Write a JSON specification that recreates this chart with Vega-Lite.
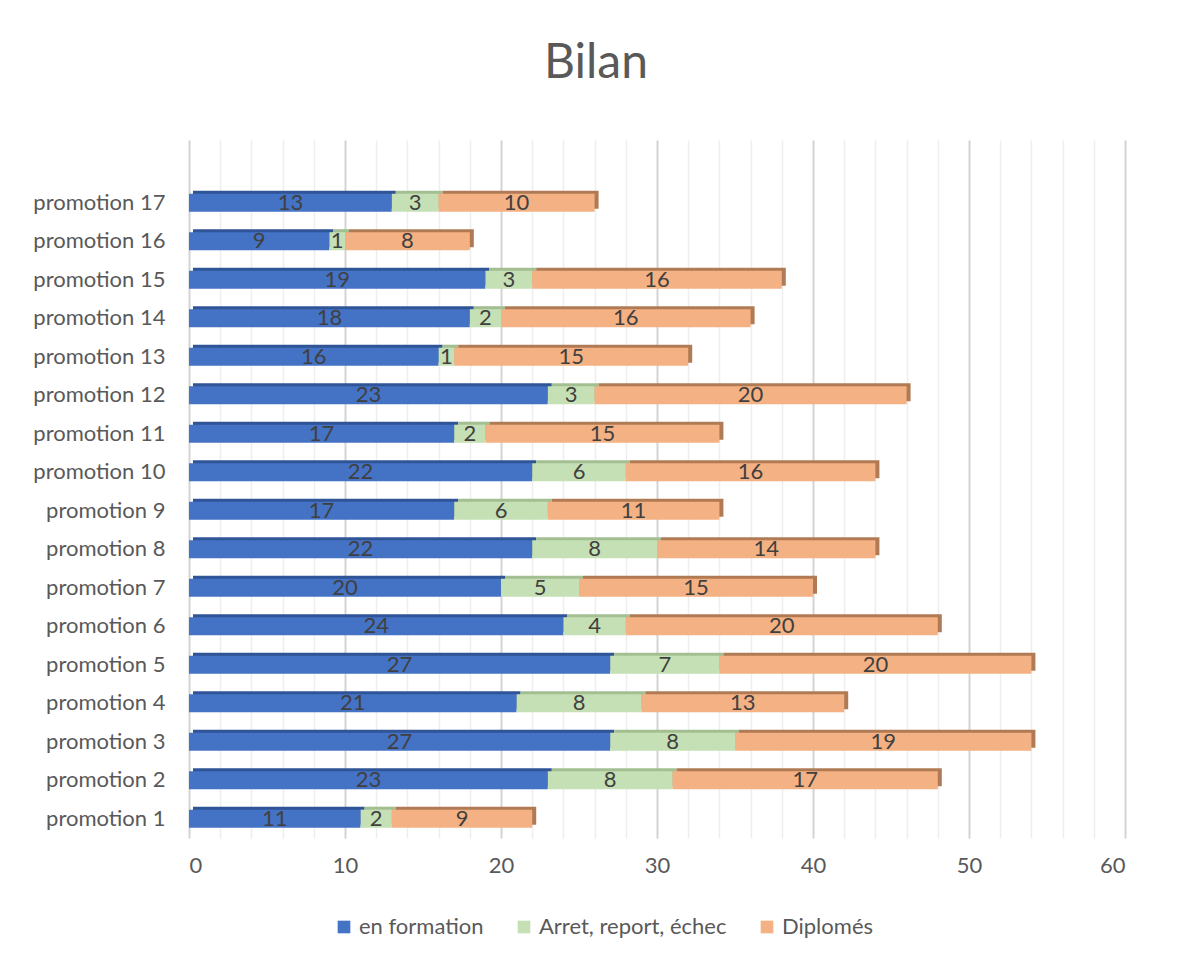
{
  "$schema": "https://vega.github.io/schema/vega-lite/v6.json",
  "width": 936,
  "height": 698,
  "autosize": {"type": "none"},
  "padding": {"left": 189, "top": 140, "right": 59, "bottom": 116},
  "background": "white",
  "config": {"font": "Lato", "view": {"stroke": null}},
  "title": {"text": "Bilan", "fontSize": 48, "fontWeight": "normal", "color": "#595959", "font": "Lato", "anchor": "middle", "dx": -61, "offset": 52},
  "data": {"values": [
    {"promo": "promotion 1", "cat": "en formation", "k": 1, "val": 11},
    {"promo": "promotion 1", "cat": "Arret, report, échec", "k": 2, "val": 2},
    {"promo": "promotion 1", "cat": "Diplomés", "k": 3, "val": 9},
    {"promo": "promotion 2", "cat": "en formation", "k": 1, "val": 23},
    {"promo": "promotion 2", "cat": "Arret, report, échec", "k": 2, "val": 8},
    {"promo": "promotion 2", "cat": "Diplomés", "k": 3, "val": 17},
    {"promo": "promotion 3", "cat": "en formation", "k": 1, "val": 27},
    {"promo": "promotion 3", "cat": "Arret, report, échec", "k": 2, "val": 8},
    {"promo": "promotion 3", "cat": "Diplomés", "k": 3, "val": 19},
    {"promo": "promotion 4", "cat": "en formation", "k": 1, "val": 21},
    {"promo": "promotion 4", "cat": "Arret, report, échec", "k": 2, "val": 8},
    {"promo": "promotion 4", "cat": "Diplomés", "k": 3, "val": 13},
    {"promo": "promotion 5", "cat": "en formation", "k": 1, "val": 27},
    {"promo": "promotion 5", "cat": "Arret, report, échec", "k": 2, "val": 7},
    {"promo": "promotion 5", "cat": "Diplomés", "k": 3, "val": 20},
    {"promo": "promotion 6", "cat": "en formation", "k": 1, "val": 24},
    {"promo": "promotion 6", "cat": "Arret, report, échec", "k": 2, "val": 4},
    {"promo": "promotion 6", "cat": "Diplomés", "k": 3, "val": 20},
    {"promo": "promotion 7", "cat": "en formation", "k": 1, "val": 20},
    {"promo": "promotion 7", "cat": "Arret, report, échec", "k": 2, "val": 5},
    {"promo": "promotion 7", "cat": "Diplomés", "k": 3, "val": 15},
    {"promo": "promotion 8", "cat": "en formation", "k": 1, "val": 22},
    {"promo": "promotion 8", "cat": "Arret, report, échec", "k": 2, "val": 8},
    {"promo": "promotion 8", "cat": "Diplomés", "k": 3, "val": 14},
    {"promo": "promotion 9", "cat": "en formation", "k": 1, "val": 17},
    {"promo": "promotion 9", "cat": "Arret, report, échec", "k": 2, "val": 6},
    {"promo": "promotion 9", "cat": "Diplomés", "k": 3, "val": 11},
    {"promo": "promotion 10", "cat": "en formation", "k": 1, "val": 22},
    {"promo": "promotion 10", "cat": "Arret, report, échec", "k": 2, "val": 6},
    {"promo": "promotion 10", "cat": "Diplomés", "k": 3, "val": 16},
    {"promo": "promotion 11", "cat": "en formation", "k": 1, "val": 17},
    {"promo": "promotion 11", "cat": "Arret, report, échec", "k": 2, "val": 2},
    {"promo": "promotion 11", "cat": "Diplomés", "k": 3, "val": 15},
    {"promo": "promotion 12", "cat": "en formation", "k": 1, "val": 23},
    {"promo": "promotion 12", "cat": "Arret, report, échec", "k": 2, "val": 3},
    {"promo": "promotion 12", "cat": "Diplomés", "k": 3, "val": 20},
    {"promo": "promotion 13", "cat": "en formation", "k": 1, "val": 16},
    {"promo": "promotion 13", "cat": "Arret, report, échec", "k": 2, "val": 1},
    {"promo": "promotion 13", "cat": "Diplomés", "k": 3, "val": 15},
    {"promo": "promotion 14", "cat": "en formation", "k": 1, "val": 18},
    {"promo": "promotion 14", "cat": "Arret, report, échec", "k": 2, "val": 2},
    {"promo": "promotion 14", "cat": "Diplomés", "k": 3, "val": 16},
    {"promo": "promotion 15", "cat": "en formation", "k": 1, "val": 19},
    {"promo": "promotion 15", "cat": "Arret, report, échec", "k": 2, "val": 3},
    {"promo": "promotion 15", "cat": "Diplomés", "k": 3, "val": 16},
    {"promo": "promotion 16", "cat": "en formation", "k": 1, "val": 9},
    {"promo": "promotion 16", "cat": "Arret, report, échec", "k": 2, "val": 1},
    {"promo": "promotion 16", "cat": "Diplomés", "k": 3, "val": 8},
    {"promo": "promotion 17", "cat": "en formation", "k": 1, "val": 13},
    {"promo": "promotion 17", "cat": "Arret, report, échec", "k": 2, "val": 3},
    {"promo": "promotion 17", "cat": "Diplomés", "k": 3, "val": 10}
  ]},
  "encoding": {
    "y": {
      "field": "promo", "type": "nominal",
      "sort": ["promotion 17", "promotion 16", "promotion 15", "promotion 14", "promotion 13", "promotion 12", "promotion 11", "promotion 10", "promotion 9", "promotion 8", "promotion 7", "promotion 6", "promotion 5", "promotion 4", "promotion 3", "promotion 2", "promotion 1"],
      "scale": {"paddingInner": 0.53, "paddingOuter": 0.83, "align": 0.84},
      "axis": {"title": null, "domain": false, "ticks": false, "grid": false, "labelFontSize": 22, "labelColor": "#595959", "labelPadding": 24, "labelLimit": 300}
    },
    "x": {
      "field": "val", "type": "quantitative", "stack": "zero",
      "scale": {"domain": [0, 60], "nice": false},
      "axis": {
        "title": null, "domain": false, "ticks": false, "grid": true,
        "values": [0, 2, 4, 6, 8, 10, 12, 14, 16, 18, 20, 22, 24, 26, 28, 30, 32, 34, 36, 38, 40, 42, 44, 46, 48, 50, 52, 54, 56, 58, 60],
        "gridColor": {"condition": {"test": "datum.value % 10 === 0", "value": "#D4D4D4"}, "value": "#EEEEEE"},
        "gridWidth": {"condition": {"test": "datum.value % 10 === 0", "value": 2}, "value": 1.5},
        "labelExpr": "datum.value % 10 === 0 ? datum.label : ''",
        "labelFontSize": 22, "labelColor": "#595959", "labelPadding": 17
      }
    },
    "order": {"field": "k", "type": "quantitative"}
  },
  "layer": [
    {
      "mark": {"type": "bar", "xOffset": 4, "yOffset": -3},
      "encoding": {
        "color": {"field": "cat", "type": "nominal",
          "scale": {"domain": ["en formation", "Arret, report, échec", "Diplomés"], "range": ["#2F5597", "#A3BF92", "#B07B54"]},
          "legend": null}
      }
    },
    {
      "mark": {"type": "bar"},
      "encoding": {
        "color": {"field": "cat", "type": "nominal",
          "scale": {"domain": ["en formation", "Arret, report, échec", "Diplomés"], "range": ["#4472C4", "#C5E0B4", "#F4B183"]},
          "legend": {"title": null, "orient": "none", "direction": "horizontal", "legendX": 144, "legendY": 776,
            "symbolType": "square", "symbolSize": 160, "symbolStrokeWidth": 0,
            "labelFontSize": 22, "labelColor": "#595959", "labelLimit": 400, "columnPadding": 29, "labelOffset": 4}}
      }
    },
    {
      "mark": {"type": "text", "fontSize": 22, "color": "#404040"},
      "encoding": {
        "x": {"field": "val", "type": "quantitative", "stack": "zero", "bandPosition": 0.5, "scale": {"domain": [0, 60], "nice": false}},
        "text": {"field": "val", "type": "quantitative"}
      }
    }
  ],
  "resolve": {"scale": {"color": "independent"}}
}
